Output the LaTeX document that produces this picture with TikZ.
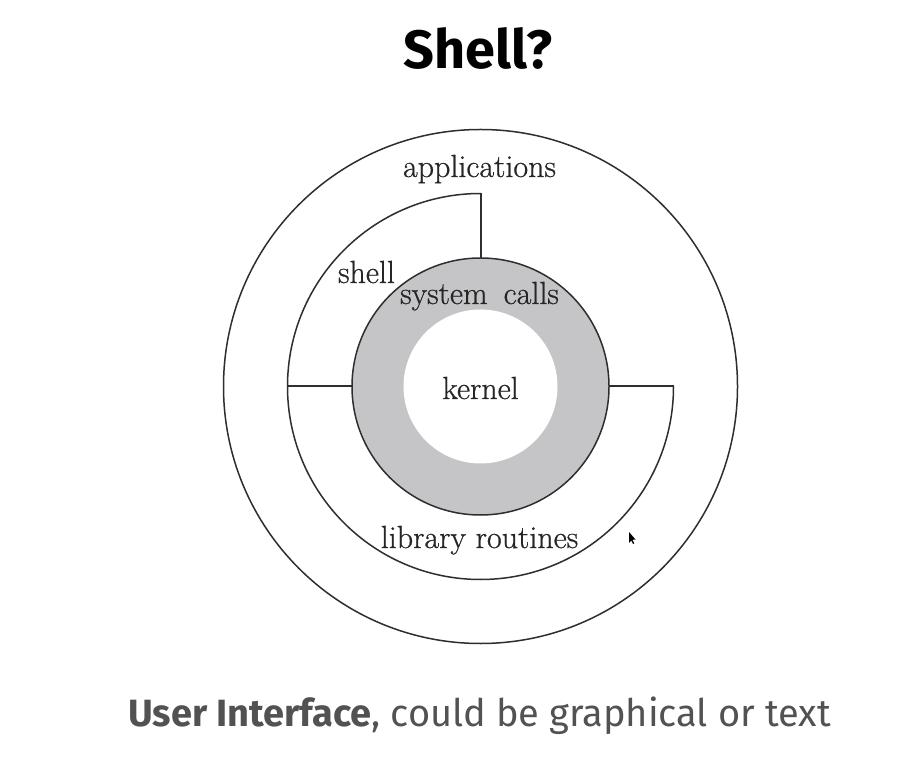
\documentclass[tikz,border=0pt]{standalone}
\usepackage{fontspec}
\newfontfamily\uifont{Fira Sans}
\newfontfamily\labfont{Latin Modern Roman}[FakeBold=0.7]
\definecolor{ring}{HTML}{2E2E2E}
\definecolor{sysgray}{HTML}{C5C5C7}
\definecolor{uigray}{HTML}{525252}
\definecolor{labtext}{HTML}{262626}
\begin{document}
\begin{tikzpicture}[x=1pt,y=1pt,
  ringline/.style={draw=ring,line width=1.5pt},
  divider/.style={draw=ring,line width=2pt},
  disc/.style={circle,inner sep=0pt,outer sep=0pt},
  lab/.style={anchor=base,inner sep=0pt,font=\labfont\fontsize{32}{36}\selectfont,text=labtext}]
\useasboundingbox (0,0) rectangle (920,774);
\fill[white] (0,0) rectangle (920,774);
\coordinate (c) at (480.5,387.5);
% outer circle (applications)
\node[disc,ringline,minimum size=514pt] (outer) at (c) {};
% middle ring (shell / library routines), not drawn as a node
\node[disc,minimum size=386pt] (mid) at (c) {};
% system calls disc and kernel
\node[disc,ringline,fill=sysgray,minimum size=257pt] (sys) at (c) {};
\node[disc,fill=white,minimum size=154pt] (kern) at (c) {};
% middle ring arc from top, round the left and bottom, to the right
\draw[ringline] (mid.north) arc[start angle=90,end angle=360,radius=193pt];
% dividers
\draw[divider] (mid.north) -- (sys.north);
\draw[divider] (mid.west) -- (sys.west);
\draw[divider] (mid.east) -- (sys.east);
% labels
\node[lab] (lapp) at (479.5,597) {applications};
\node[lab] (lshell) at (366.5,491) {shell};
\node[lab] (lsys) at (479.5,470) {system\hspace{0.5em}calls};
\node[lab] (lkern) at (480.5,375) {kernel};
\node[lab] (llib) at (479.5,226) {library routines};
% mouse pointer
\fill[black] (629,242) -- (629,231) -- (631.3,233.6) -- (633,230) -- (634.2,230.6) -- (632.5,234.2) -- (635.5,234.5) -- cycle;
% title and caption
\node[anchor=base,inner sep=0pt,font=\uifont\bfseries\fontsize{54}{60}\selectfont] (title) at (478,705) {Shell?};
\node[anchor=base,inner sep=0pt,text=uigray,font=\uifont\fontsize{38}{44}\selectfont] (cap) at (479.5,48) {\textbf{User Interface}, could be graphical or text};
\end{tikzpicture}
\end{document}
